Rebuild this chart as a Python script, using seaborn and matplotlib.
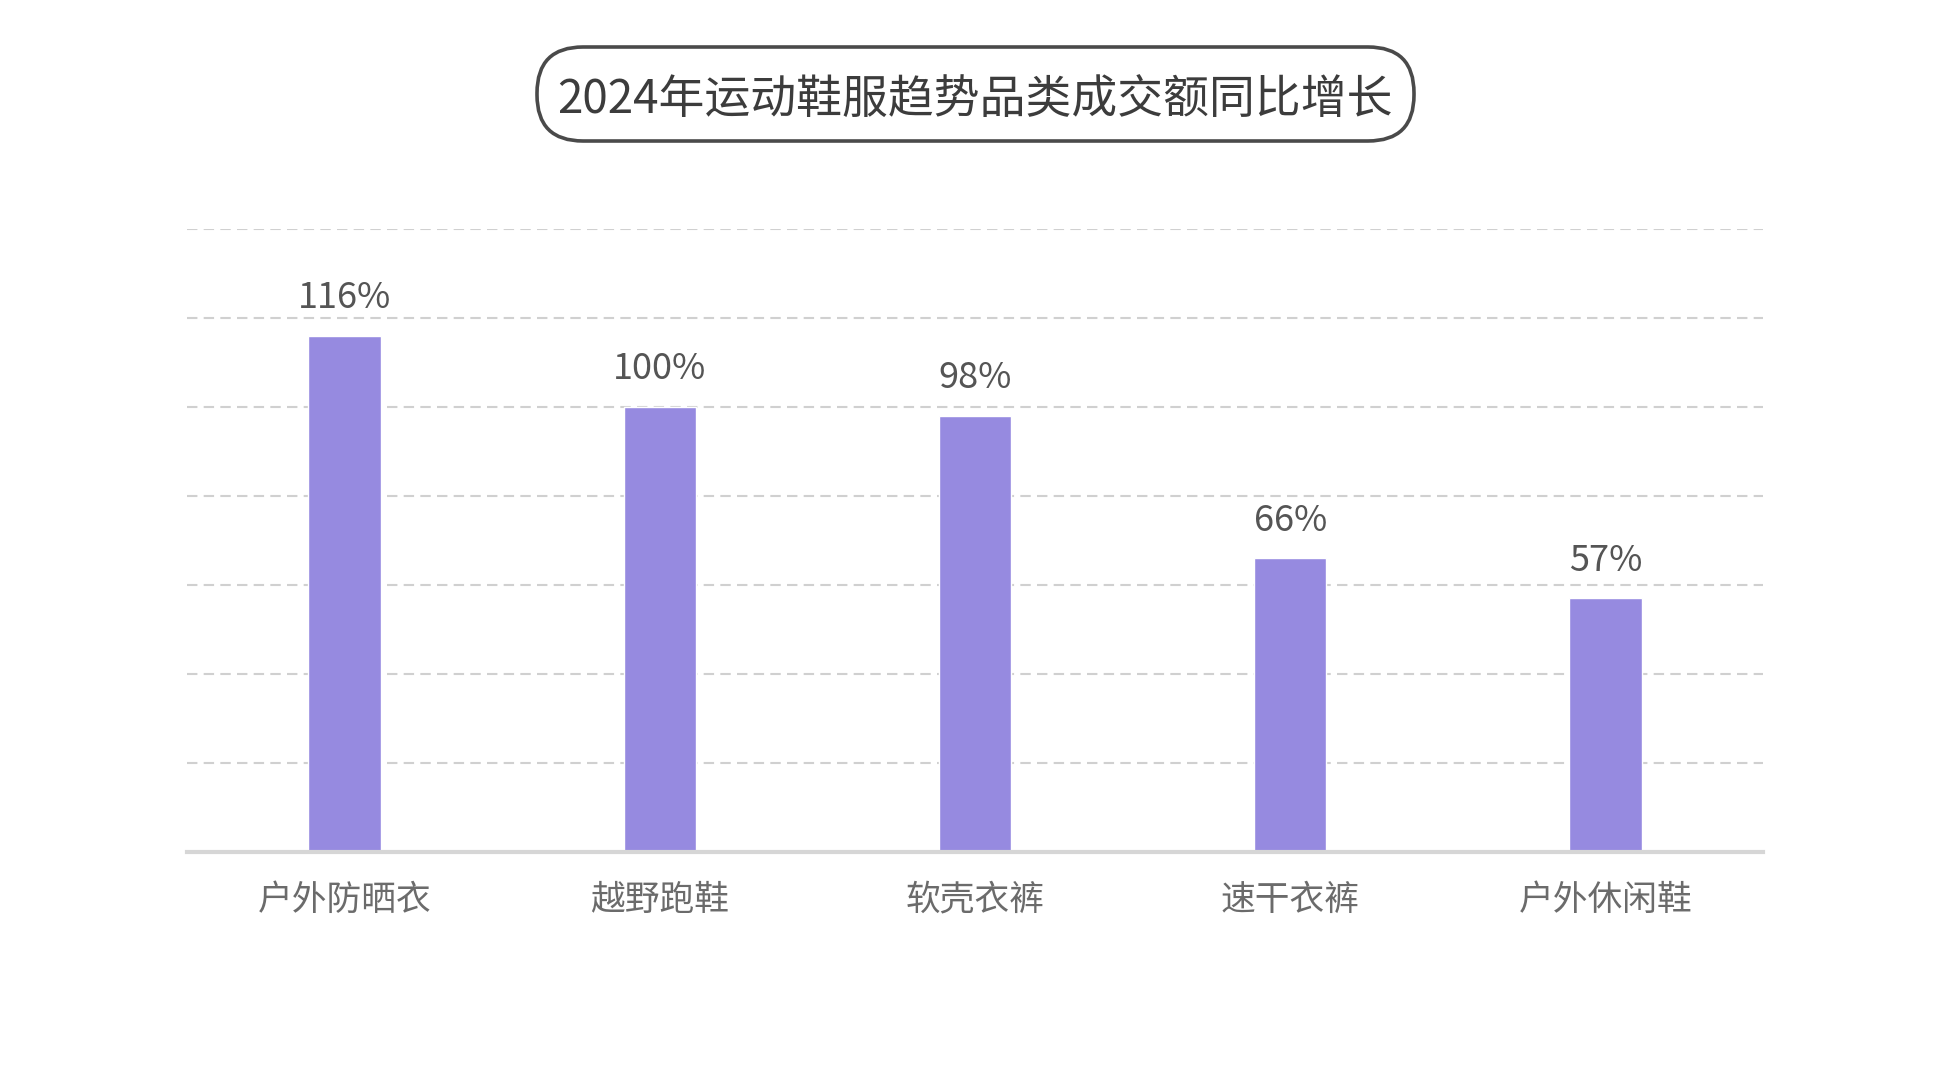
import matplotlib
matplotlib.use('Agg')
import matplotlib.pyplot as plt
from matplotlib.patches import FancyBboxPatch
import seaborn as sns
import pandas as pd

categories = ['户外防晒衣', '越野跑鞋', '软壳衣裤', '速干衣裤', '户外休闲鞋']
growth = [116, 100, 98, 66, 57]
title = '2024年运动鞋服趋势品类成交额同比增长'

df = pd.DataFrame({'category': categories, 'growth': growth})

sns.set_theme(style='white')
plt.rcParams['font.family'] = ['Noto Sans CJK SC', 'DejaVu Sans']

fig = plt.figure(figsize=(19.5, 10.8), dpi=100)
fig.patch.set_facecolor('white')
ax = fig.add_axes([0.0959, 0.2111, 0.8082, 0.577])

sns.barplot(data=df, x='category', y='growth', color='#968ae0',
            width=0.23, saturation=1, ax=ax)

ax.set_ylim(0, 140)
ax.set_yticks(range(0, 141, 20))
ax.set_xlim(-0.5, 4.5)
ax.yaxis.grid(True, linestyle=(0, (5, 3)), color='#d0d0d0', linewidth=1.5)
ax.set_axisbelow(True)
for s in ['top', 'left', 'right']:
    ax.spines[s].set_visible(False)
ax.spines['bottom'].set_color('#d6d6d6')
ax.spines['bottom'].set_linewidth(3)
ax.set_xlabel('')
ax.set_ylabel('')
ax.tick_params(axis='y', left=False, labelleft=False)
ax.tick_params(axis='x', length=0, pad=22, labelsize=25, labelcolor='#6b6b6b')

labels = [f'{v}%' for v in growth]
ax.bar_label(ax.containers[0], labels=labels, padding=14,
             fontsize=26, color='#555555')

# title in a rounded box
ov = fig.add_axes([0, 0, 1, 1], zorder=-1)
ov.set_xlim(0, 1950)
ov.set_ylim(0, 1080)
ov.axis('off')
box = FancyBboxPatch((537, 1080 - 141), 877, 94,
                     boxstyle='round,pad=0,rounding_size=46',
                     facecolor='white', edgecolor='#4a4a4a', linewidth=2.6)
ov.add_patch(box)
fig.text(0.5, 1 - 100 / 1080, title, ha='center', va='center',
         fontsize=33, color='#3c3c3c')

fig.savefig('out.png', dpi=100, facecolor='white')
